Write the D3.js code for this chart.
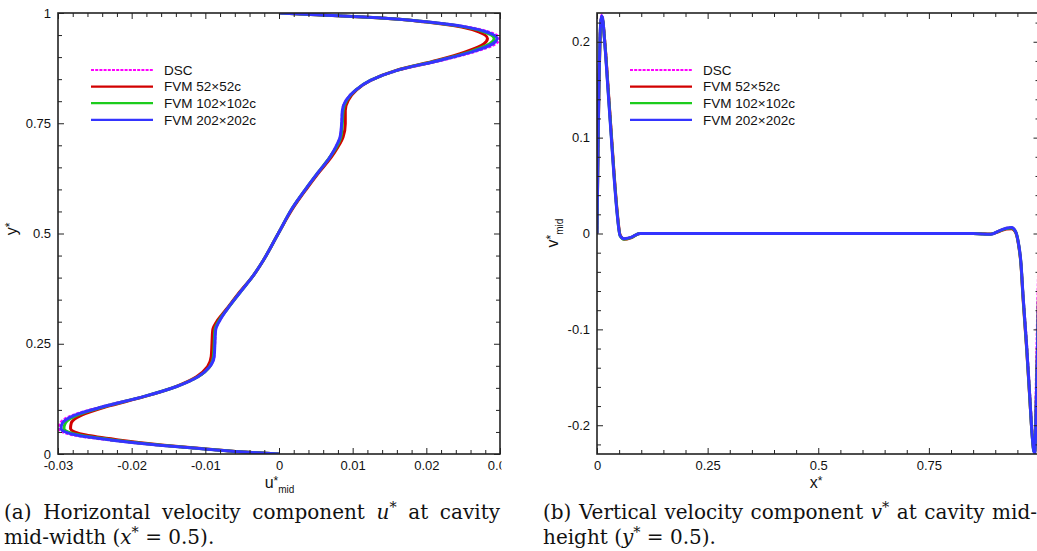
<!DOCTYPE html>
<html>
<head>
<meta charset="utf-8">
<script src="https://cdn.jsdelivr.net/npm/d3@7/dist/d3.min.js"></script>
<style>
  body { margin: 0; background: #fff; }
  svg { display: block; }
  .ax text { font-family: "Liberation Sans", Arial, sans-serif; font-size: 13px; fill: #111; }
  .lab { font-family: "Liberation Sans", Arial, sans-serif; fill: #111; }
  .cap { font-family: "DejaVu Serif", serif; font-size: 20px; fill: #111; }
</style>
</head>
<body>
<svg id="fig" width="1037" height="551"></svg>
<script>
// ---- values ----
const seriesNames = ["DSC", "FVM 52\u00d752c", "FVM 102\u00d7102c", "FVM 202\u00d7202c"];
const seriesColors = ["#ff00ff", "#d20000", "#1ccc1c", "#3434ff"];

// (a) u* on the vertical mid line, against y*
const yStar = [0, 0.005, 0.011, 0.02, 0.032, 0.043, 0.058, 0.07, 0.088, 0.107, 0.13, 0.153, 0.175, 0.198, 0.221,
  0.251, 0.281, 0.304, 0.327, 0.364, 0.402, 0.44, 0.5, 0.56, 0.598, 0.636, 0.673, 0.696, 0.719, 0.749, 0.779,
  0.802, 0.825, 0.847, 0.87, 0.893, 0.912, 0.93, 0.942, 0.957, 0.968, 0.98, 0.989, 0.995, 1];
const uDSC = [0, -0.0054, -0.0099, -0.0164, -0.0232, -0.0279, -0.0299, -0.0297, -0.0280, -0.0241, -0.0185, -0.0139,
  -0.0110, -0.0094, -0.0088, -0.0087, -0.0086, -0.0080, -0.0071, -0.0054, -0.0036, -0.0021, -0.0001, 0.0019, 0.0035,
  0.0052, 0.0069, 0.0077, 0.0083, 0.0085, 0.0086, 0.0091, 0.0104, 0.0125, 0.0162, 0.0222, 0.0265, 0.0294, 0.0299,
  0.0285, 0.0257, 0.0201, 0.0136, 0.0066, 0];
const u52 = [0, -0.0052, -0.0095, -0.0156, -0.0218, -0.0262, -0.0283, -0.0282, -0.0268, -0.0235, -0.0183, -0.0140,
  -0.0112, -0.0097, -0.0092, -0.0091, -0.0090, -0.0083, -0.0072, -0.0055, -0.0036, -0.0021, -0.0001, 0.0020, 0.0036,
  0.0053, 0.0071, 0.0080, 0.0087, 0.0090, 0.0090, 0.0094, 0.0105, 0.0124, 0.0159, 0.0215, 0.0253, 0.0278, 0.0283,
  0.0271, 0.0248, 0.0197, 0.0133, 0.0064, 0];
const u102 = [0, -0.0053, -0.0097, -0.0160, -0.0226, -0.0271, -0.0292, -0.0290, -0.0274, -0.0238, -0.0184, -0.0139,
  -0.0110, -0.0094, -0.0089, -0.0088, -0.0087, -0.0081, -0.0071, -0.0054, -0.0036, -0.0021, -0.0001, 0.0019, 0.0035,
  0.0052, 0.0069, 0.0078, 0.0084, 0.0086, 0.0087, 0.0092, 0.0104, 0.0124, 0.0160, 0.0218, 0.0259, 0.0286, 0.0292,
  0.0279, 0.0253, 0.0199, 0.0134, 0.0065, 0];
const u202 = [0, -0.0053, -0.0098, -0.0162, -0.0229, -0.0275, -0.0296, -0.0294, -0.0277, -0.0239, -0.0184, -0.0139,
  -0.0110, -0.0094, -0.0088, -0.0087, -0.0086, -0.0080, -0.0071, -0.0054, -0.0036, -0.0021, -0.0001, 0.0019, 0.0035,
  0.0052, 0.0069, 0.0077, 0.0083, 0.0085, 0.0086, 0.0091, 0.0104, 0.0124, 0.0160, 0.0219, 0.0262, 0.0290, 0.0296,
  0.0282, 0.0255, 0.0200, 0.0135, 0.0065, 0];

// (b) v* on the horizontal mid line, against x*
const xStar = [0, 0.0023, 0.0045, 0.0068, 0.009, 0.0113, 0.0181, 0.0248, 0.0316, 0.0384, 0.0452, 0.052, 0.061,
  0.0768, 0.097, 0.15, 0.3, 0.5, 0.7, 0.85, 0.89, 0.91, 0.925, 0.937, 0.946, 0.952, 0.958, 0.963, 0.971, 0.978,
  0.983, 0.987, 0.9895, 0.992, 0.995, 0.998, 1];
const vDSC = [0, 0.095, 0.165, 0.208, 0.225, 0.228, 0.2, 0.156, 0.11, 0.064, 0.024, -0.001, -0.0052, -0.0038, 0,
  0, 0, 0, 0, 0, -0.0008, 0.003, 0.0056, 0.0063, 0.0021, -0.009, -0.03, -0.064, -0.114, -0.165, -0.204, -0.226,
  -0.228, -0.165, -0.09, -0.03, 0];
const v52 = [0, 0.085, 0.155, 0.2, 0.22, 0.225, 0.197, 0.154, 0.109, 0.064, 0.025, -0.001, -0.006, -0.0045, 0,
  0, 0, 0, 0, 0, -0.0006, 0.0024, 0.0046, 0.005, 0.0012, -0.01, -0.032, -0.069, -0.121, -0.172, -0.208, -0.226,
  -0.227, -0.19, -0.13, -0.06, 0];
const v102 = [0, 0.088, 0.158, 0.203, 0.222, 0.226, 0.196, 0.152, 0.107, 0.062, 0.023, -0.002, -0.0058, -0.0042, 0,
  0, 0, 0, 0, 0, -0.0008, 0.0028, 0.0052, 0.0058, 0.0018, -0.009, -0.031, -0.067, -0.119, -0.171, -0.208, -0.227,
  -0.228, -0.19, -0.13, -0.06, 0];
const v202 = [0, 0.09, 0.16, 0.205, 0.223, 0.227, 0.195, 0.15, 0.105, 0.06, 0.022, -0.002, -0.0055, -0.004, 0,
  0, 0, 0, 0, 0, -0.0008, 0.003, 0.0055, 0.0062, 0.002, -0.009, -0.03, -0.066, -0.118, -0.170, -0.208, -0.227,
  -0.229, -0.19, -0.13, -0.06, 0];

// tick labels
const uTicks = [-0.03, -0.02, -0.01, 0, 0.01, 0.02, 0.03];
const yTicks = [0, 0.25, 0.5, 0.75, 1];
const xTicks = [0, 0.25, 0.5, 0.75, 1];
const vTicks = [-0.2, -0.1, 0, 0.1, 0.2];

const svg = d3.select("#fig");
const defs = svg.append("defs");
const fmt = d => String(+d.toFixed(3));

function minorTicks(dom, step, major) {
  const lo = Math.ceil(dom[0] / step - 1e-9), hi = Math.floor(dom[1] / step + 1e-9);
  return d3.range(lo, hi + 1).map(i => +(i * step).toFixed(4))
    .filter(v => !major.some(m => Math.abs(m - v) < step / 10));
}

function addAxis(g, axis, major, minor, transform, labels) {
  const a = g.append("g").attr("class", "ax").attr("transform", transform).attr("color", "#222");
  a.call(axis.tickValues(major).tickSize(-6).tickPadding(7).tickFormat(labels ? fmt : ""));
  a.append("g").call(axis.tickValues(minor).tickSize(-4).tickFormat(""));
  a.selectAll(".domain").remove();
  a.selectAll("line").attr("stroke-width", 1);
}

function drawPanel(p) {
  const g = svg.append("g");
  if (p.clipX) {
    defs.append("clipPath").attr("id", "all-" + p.id).append("rect")
      .attr("x", 0).attr("y", 0).attr("width", p.clipX).attr("height", 500);
    g.attr("clip-path", `url(#all-${p.id})`);
  }
  const x = d3.scaleLinear().domain(p.xDom).range([p.x0, p.x1]);
  const y = d3.scaleLinear().domain(p.yDom).range([p.y1, p.y0]);

  defs.append("clipPath").attr("id", "plot-" + p.id).append("rect")
    .attr("x", p.x0).attr("y", p.y0).attr("width", p.x1 - p.x0).attr("height", p.y1 - p.y0);

  // curves
  const line = d3.line().x(d => x(d[0])).y(d => y(d[1])).curve(p.curve);
  g.append("g").attr("clip-path", `url(#plot-${p.id})`)
    .selectAll("path").data(p.series).join("path")
    .attr("d", d => line(d))
    .attr("fill", "none")
    .attr("stroke", (d, i) => seriesColors[i])
    .attr("stroke-width", (d, i) => i === 0 ? 2.6 : 3)
    .attr("stroke-dasharray", (d, i) => i === 0 ? "3,1.5" : null)
    .attr("stroke-linejoin", "round");

  // frame
  g.append("rect").attr("x", p.x0).attr("y", p.y0)
    .attr("width", p.x1 - p.x0).attr("height", p.y1 - p.y0)
    .attr("fill", "none").attr("stroke", "#222").attr("stroke-width", 1.6);

  // ticks, all inward
  const xMin = minorTicks(p.xDom, p.xMinor, p.xMajor);
  const yMin = minorTicks(p.yDom, p.yMinor, p.yMajor);
  addAxis(g, d3.axisBottom(x), p.xMajor, xMin, `translate(0,${p.y1})`, true);
  addAxis(g, d3.axisTop(x), p.xMajor, xMin, `translate(0,${p.y0})`, false);
  addAxis(g, d3.axisLeft(y), p.yMajor, yMin, `translate(${p.x0},0)`, true);
  addAxis(g, d3.axisRight(y), p.yMajor, yMin, `translate(${p.x1},0)`, false);

  // legend
  const leg = g.append("g").selectAll("g").data(seriesNames).join("g")
    .attr("transform", (d, i) => `translate(0,${p.legY + i * 16.6})`);
  leg.append("line").attr("x1", p.legX).attr("x2", p.legX + 62)
    .attr("stroke", (d, i) => seriesColors[i]).attr("stroke-width", 2.2)
    .attr("stroke-dasharray", (d, i) => i === 0 ? "3,1.2" : null);
  leg.append("text").attr("class", "lab").attr("x", p.legX + 73).attr("dy", "0.36em")
    .attr("font-size", 13.5).text(d => d);
  return g;
}

// axis titles made of a base letter, a star and an optional subscript
function title(g, tr, letter, sub) {
  const t = g.append("text").attr("class", "lab").attr("text-anchor", "middle").attr("transform", tr);
  t.append("tspan").attr("font-size", 16).text(letter);
  t.append("tspan").attr("font-size", 12).attr("dy", -3).text("*");
  if (sub) t.append("tspan").attr("font-size", 10).attr("dy", 8).text(sub);
}

const ga = drawPanel({
  id: "a", x0: 58, x1: 500, y0: 13, y1: 454, clipX: 501.5,
  xDom: [-0.03, 0.03], yDom: [0, 1], xMajor: uTicks, yMajor: yTicks, xMinor: 0.002, yMinor: 0.05,
  series: [uDSC, u52, u102, u202].map(s => s.map((u, k) => [u, yStar[k]])),
  curve: d3.curveMonotoneY, legX: 91, legY: 70
});
title(ga, "translate(279.5,488)", "u", "mid");
title(ga, "translate(16.5,229) rotate(-90)", "y");

const gb = drawPanel({
  id: "b", x0: 597, x1: 1039.5, y0: 13, y1: 454,
  xDom: [0, 1], yDom: [-0.23, 0.23], xMajor: xTicks, yMajor: vTicks, xMinor: 0.05, yMinor: 0.02,
  series: [vDSC, v52, v102, v202].map(s => s.map((v, k) => [xStar[k], v])),
  curve: d3.curveMonotoneX, legX: 630, legY: 70
});
title(gb, "translate(816,488)", "x");
title(gb, "translate(558,233) rotate(-90)", "v", "mid");

// ---- captions ----
function addSegs(t, segs) {
  let up = false;
  segs.forEach(s => {
    const sp = t.append("tspan").text(s.t);
    if (s.it) sp.attr("font-style", "italic");
    if (s.sup) { sp.attr("font-size", "0.72em").attr("dy", -7); up = true; }
    else if (up) { sp.attr("dy", 7); up = false; }
  });
  return t;
}
const asSegs = w => typeof w === "string" ? [{ t: w }] : w;

function justified(words, x0, x1, yb) {
  const nodes = words.map(w => addSegs(svg.append("text").attr("class", "cap").attr("y", yb), asSegs(w)));
  const widths = nodes.map(n => n.node().getComputedTextLength());
  const gap = (x1 - x0 - d3.sum(widths)) / (words.length - 1);
  let xx = x0;
  nodes.forEach((n, i) => { n.attr("x", xx); xx += widths[i] + gap; });
}
function plain(segs, x0, yb) {
  addSegs(svg.append("text").attr("class", "cap").attr("x", x0).attr("y", yb).attr("xml:space", "preserve"), segs);
}

justified(["(a)", "Horizontal", "velocity", "component", [{ t: "u", it: 1 }, { t: "*", sup: 1 }], "at", "cavity"], 4, 500, 519);
plain([{ t: "mid-width (" }, { t: "x", it: 1 }, { t: "*", sup: 1 }, { t: " = 0.5)." }], 4, 544);
justified(["(b)", "Vertical", "velocity", "component", [{ t: "v", it: 1 }, { t: "*", sup: 1 }], "at", "cavity", "mid-"], 543, 1037, 519);
plain([{ t: "height (" }, { t: "y", it: 1 }, { t: "*", sup: 1 }, { t: " = 0.5)." }], 543, 544);
</script>
</body>
</html>
